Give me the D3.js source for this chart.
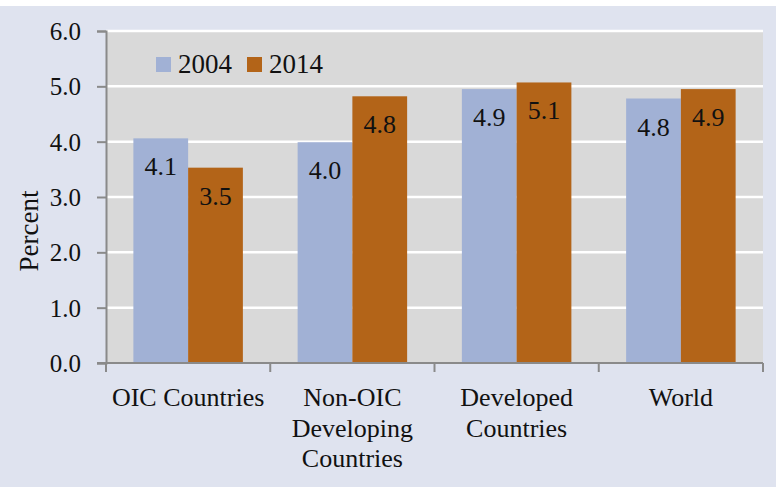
<!DOCTYPE html>
<html><head><meta charset="utf-8">
<script src="https://cdn.jsdelivr.net/npm/d3@7"></script>
<style>body{margin:0;background:#fff;} svg{display:block;}</style>
</head><body>
<svg id="c" width="776" height="487"></svg>
<script>
const categories = [["OIC Countries"], ["Non-OIC", "Developing", "Countries"], ["Developed", "Countries"], ["World"]];
const categoryKeys = ["OIC", "NonOIC", "Developed", "World"];
const seriesNames = ["2004", "2014"];
const values2004 = [4.06, 3.99, 4.95, 4.78];
const values2014 = [3.53, 4.82, 5.07, 4.95];
const labels2004 = ["4.1", "4.0", "4.9", "4.8"];
const labels2014 = ["3.5", "4.8", "5.1", "4.9"];
const yTicks = [0, 1, 2, 3, 4, 5, 6];
const colors = ["#a1b1d5", "#b36418"];

const svg = d3.select("#c");
const font = "'Liberation Serif', 'Times New Roman', serif";
svg.append("rect").attr("x", 0).attr("y", 6).attr("width", 776).attr("height", 481).attr("fill", "#dfe3ef");

const L = 106, R = 763, T = 31, B = 363;
const x0 = d3.scaleBand().domain(categoryKeys).range([L, R]).paddingInner(1/3).paddingOuter(1/6);
const x1 = d3.scaleBand().domain(seriesNames).range([0, x0.bandwidth()]);
const y = d3.scaleLinear().domain([0, 6]).range([B, T]);

svg.append("rect").attr("x", L).attr("y", T).attr("width", R - L).attr("height", B - T).attr("fill", "#d9d9d9");
svg.append("g").selectAll("line").data(yTicks.filter(d => d > 0)).join("line")
  .attr("x1", L).attr("x2", R).attr("y1", d => y(d)).attr("y2", d => y(d))
  .attr("stroke", "#ffffff").attr("stroke-width", 2.5);

const series = [values2004, values2014];
const labs = [labels2004, labels2014];
series.forEach((vals, si) => {
  const g = svg.append("g");
  g.selectAll("rect").data(vals).join("rect")
    .attr("x", (d, i) => x0(categoryKeys[i]) + x1(seriesNames[si]))
    .attr("y", d => y(d)).attr("width", x1.bandwidth()).attr("height", d => y(0) - y(d))
    .attr("fill", colors[si]);
  g.selectAll("text").data(vals).join("text")
    .attr("x", (d, i) => x0(categoryKeys[i]) + x1(seriesNames[si]) + x1.bandwidth() / 2)
    .attr("y", d => y(d) + 37)
    .attr("text-anchor", "middle").attr("font-family", font).attr("font-size", 26).attr("fill", "#111")
    .text((d, i) => labs[si][i]);
});

// Y axis
const yAxis = d3.axisLeft(y).tickValues(yTicks).tickFormat(d3.format(".1f")).tickSize(9).tickPadding(16);
const ya = svg.append("g").attr("transform", `translate(${L},0)`).call(yAxis);
ya.select(".domain").attr("stroke", "#8a8a8a").attr("stroke-width", 2);
ya.selectAll(".tick line").attr("stroke", "#8a8a8a").attr("stroke-width", 2);
ya.selectAll(".tick text").attr("font-family", font).attr("font-size", 25).attr("fill", "#111").attr("dy", "0.34em");

// X axis line & ticks
svg.append("line").attr("x1", 97).attr("x2", R).attr("y1", B).attr("y2", B).attr("stroke", "#8a8a8a").attr("stroke-width", 2);
const bounds = categoryKeys.map(k => x0(k) - x0.step() * x0.paddingInner() / 2).concat([R]);
bounds[0] = L;
svg.append("g").selectAll("line").data(bounds).join("line")
  .attr("x1", d => d).attr("x2", d => d).attr("y1", B).attr("y2", B + 9)
  .attr("stroke", "#8a8a8a").attr("stroke-width", 2);

// X labels
categories.forEach((lines, i) => {
  const cx = x0(categoryKeys[i]) + x0.bandwidth() / 2;
  const t = svg.append("text").attr("text-anchor", "middle").attr("font-family", font).attr("font-size", 26).attr("fill", "#111");
  lines.forEach((ln, j) => t.append("tspan").attr("x", cx).attr("y", 406 + j * 30.5).text(ln));
});

// Y title
svg.append("text").attr("transform", "translate(38,231) rotate(-90)").attr("text-anchor", "middle")
  .attr("font-family", font).attr("font-size", 27).attr("fill", "#111").text("Percent");

// Legend
const legX = [156, 247];
seriesNames.forEach((s, i) => {
  svg.append("rect").attr("x", legX[i]).attr("y", 57).attr("width", 15).attr("height", 15).attr("fill", colors[i]);
  svg.append("text").attr("x", legX[i] + 22).attr("y", 72.5).attr("font-family", font).attr("font-size", 27).attr("fill", "#111").text(s);
});
</script>
</body></html>
